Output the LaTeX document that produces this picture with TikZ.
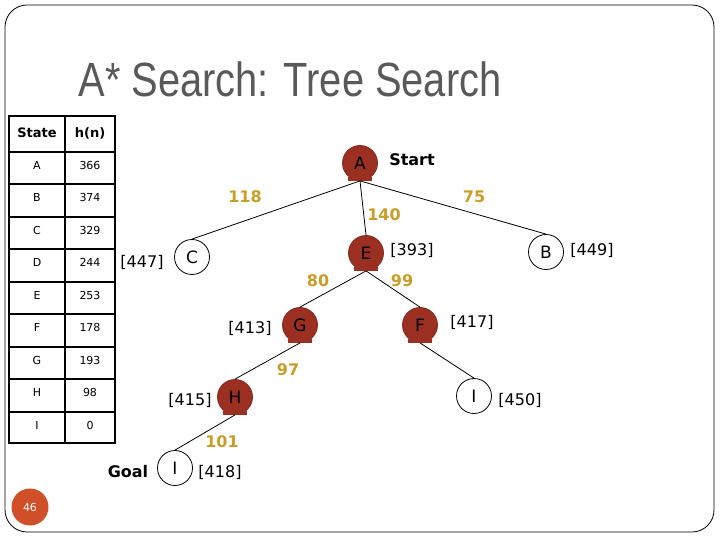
\documentclass[tikz,border=0pt]{standalone}
\usepackage{fontspec}
\setmainfont{DejaVu Sans}
\newfontfamily\titlefont{Liberation Sans}
\usetikzlibrary{positioning}
\definecolor{visit}{RGB}{155,48,34}
\definecolor{wgold}{RGB}{201,158,40}
\definecolor{titlegray}{RGB}{89,89,89}
\definecolor{pagedot}{RGB}{208,78,40}

\begin{document}
\begin{tikzpicture}[x=1pt,y=-1pt,line width=0.8pt,
  open/.style={circle,draw,minimum size=35pt,inner sep=0pt,fill=white,font=\fontsize{17}{17}\selectfont},
  closed/.style={open,fill=visit,draw=visit!85!black},
  fval/.style={font=\fontsize{16}{16}\selectfont},
  wt/.style={text=wgold,font=\bfseries\fontsize{16}{16}\selectfont},
  cell/.style={font=\fontsize{11}{11}\selectfont},
  head/.style={font=\bfseries\fontsize{13}{13}\selectfont}]
% Slide
\fill[white] (0,0) rectangle (720,540);
\draw[rounded corners=22pt] (5,5) rectangle (714,532);
\node[text=titlegray,font=\titlefont\fontsize{48}{48}\selectfont,anchor=base] (title) at (290,97) {\scalebox{0.83}[1]{A* Search: Tree Search}};
\node[circle,fill=pagedot,minimum size=37pt,inner sep=0pt,text=white,font=\fontsize{11}{11}\selectfont] (page) at (30,507) {46};
% Heuristic table
\draw[line width=2pt] (9,116) rectangle (115,443);
\draw[line width=2pt] (65,116) -- (65,443);
\foreach \i in {0,...,8}
  \draw[line width=2pt] (9,{151.7+32.5*\i}) -- (115,{151.7+32.5*\i});
\node[head] (hstate) at (37,133) {State};
\node[head] (hval) at (90,133) {h(n)};
\foreach \s/\h [count=\i] in {A/366,B/374,C/329,D/244,E/253,F/178,G/193,H/98,I/0} {
  \node[cell] (s\s) at (37,{151.7+32.5*(\i-1)+13.5}) {\s};
  \node[cell] (h\s) at (90,{151.7+32.5*(\i-1)+13.5}) {\h};
}
% Tree
\node[closed] (A) at (360,163) {A};
\node[open] (C) at (192,257) {C};
\node[closed] (E) at (366,253) {E};
\node[open] (B) at (546,252) {B};
\node[closed] (G) at (300,325) {G};
\node[closed] (F) at (420,325) {F};
\node[closed] (H) at (235,397) {H};
\node[open] (I1) at (474,396) {I};
\node[open] (I2) at (175,468) {I};
\foreach \n in {A,E,G,F,H}
  \fill[visit] ([xshift=-12pt]\n.south) rectangle ([xshift=12pt,yshift=4pt]\n.south);
\draw (A.south) -- (C.north);
\draw (A.south) -- (E.north);
\draw (A.south) -- (B.north);
\draw (E.south) -- (G.north);
\draw (E.south) -- (F.north);
\draw (G.south) -- (H.north);
\draw (F.south) -- (I1.north);
\draw (H.south) -- (I2.north);
% Step costs
\node[wt] (w118) at (245,197) {118};
\node[wt] (w140) at (384,215) {140};
\node[wt] (w75) at (474,197) {75};
\node[wt] (w80) at (318,281) {80};
\node[wt] (w99) at (402,281) {99};
\node[wt] (w97) at (288,370) {97};
\node[wt] (w101) at (222,442) {101};
% f values
\node[fval] (fC) at (142,262) {[447]};
\node[fval] (fE) at (412,250) {[393]};
\node[fval] (fB) at (592,250) {[449]};
\node[fval] (fG) at (250,328) {[413]};
\node[fval] (fF) at (472,322) {[417]};
\node[fval] (fH) at (190,400) {[415]};
\node[fval] (fI1) at (520,400) {[450]};
\node[fval] (fI2) at (220,472) {[418]};
\node[head,font=\bfseries\fontsize{16}{16}\selectfont] (start) at (412,160) {Start};
\node[head,font=\bfseries\fontsize{16}{16}\selectfont] (goal) at (128,472) {Goal};
\end{tikzpicture}
\end{document}
